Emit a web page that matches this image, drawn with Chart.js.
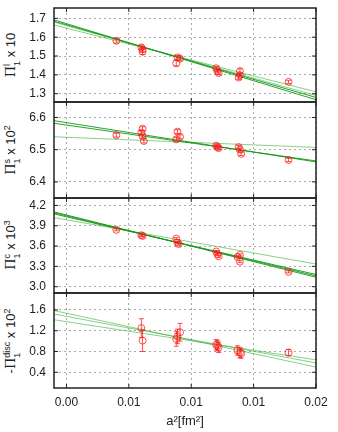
<!DOCTYPE html>
<html>
<head>
<meta charset="utf-8">
<script src="https://cdn.jsdelivr.net/npm/chart.js@4.4.0/dist/chart.umd.min.js"></script>
<style>
body { margin: 0; background: #fff; }
#wrap { position: relative; width: 338px; height: 432px; overflow: hidden; }
#wrap canvas { position: absolute; left: 0; }
.ylab {
    position: absolute; left: 12px;
    transform: translate(-50%, -50%) rotate(-90deg);
    font: 13px "Liberation Sans", Arial, sans-serif; color: #222; white-space: nowrap;
}
.pi { font-family: "DejaVu Serif", "Liberation Serif", serif; }
.ss { display: inline-block; vertical-align: middle; font-size: 9px; line-height: 10px; text-align: left; }
.ss span { display: block; }
.ylab sup { font-size: 9px; }
</style>
</head>
<body>
<div id="wrap">
    <div class="ylab" style="top:55px"><span class="pi">Π</span><span class="ss"><span>l</span><span>1</span></span> x 10</div>
    <div class="ylab" style="top:150px"><span class="pi">Π</span><span class="ss"><span>s</span><span>1</span></span> x 10<sup>2</sup></div>
    <div class="ylab" style="top:245px"><span class="pi">Π</span><span class="ss"><span>c</span><span>1</span></span> x 10<sup>3</sup></div>
    <div class="ylab" style="top:341px">-<span class="pi">Π</span><span class="ss"><span>disc</span><span>1</span></span> x 10<sup>2</sup></div>
</div>
<script>
// ось x общая для всех панелей
const xTicks = [0, 0.005, 0.01, 0.015, 0.02];
const xTickLabels = ['0.00', '0.01', '0.01', '0.01', '0.02'];
const fitX = [-0.001, 0.02];

// Π1^l x 10
const p1X   = [0.0040, 0.0060, 0.0061, 0.0061, 0.0088, 0.0089, 0.0091, 0.0120, 0.0122, 0.0121, 0.0138, 0.0139, 0.0139, 0.0178];
const p1Y   = [1.581, 1.546, 1.535, 1.523, 1.462, 1.493, 1.486, 1.435, 1.410, 1.420, 1.386, 1.420, 1.398, 1.363];
const p1Err = [0.012, 0.012, 0.012, 0.015, 0.015, 0.010, 0.010, 0.010, 0.010, 0.010, 0.010, 0.012, 0.010, 0.008];
const p1Fits = [[1.692, 1.268], [1.685, 1.280], [1.680, 1.290], [1.665, 1.310]];
const p1Ticks = [1.3, 1.4, 1.5, 1.6, 1.7];

// Π1^s x 10^2
const p2X   = [0.0040, 0.0061, 0.0060, 0.0061, 0.0062, 0.0088, 0.0089, 0.0091, 0.0120, 0.0122, 0.0121, 0.0138, 0.0139, 0.0140, 0.0178];
const p2Y   = [6.545, 6.565, 6.553, 6.542, 6.527, 6.532, 6.556, 6.540, 6.512, 6.505, 6.508, 6.508, 6.500, 6.487, 6.468];
const p2Err = [0.006, 0.006, 0.006, 0.006, 0.006, 0.006, 0.006, 0.006, 0.005, 0.005, 0.005, 0.005, 0.005, 0.005, 0.005];
const p2Fits = [[6.590, 6.462], [6.582, 6.465], [6.540, 6.507]];
const p2Ticks = [6.4, 6.5, 6.6];

// Π1^c x 10^3
const p3X   = [0.0040, 0.0060, 0.0061, 0.0088, 0.0089, 0.0090, 0.0120, 0.0121, 0.0122, 0.0137, 0.0139, 0.0139, 0.0178];
const p3Y   = [3.84, 3.76, 3.75, 3.71, 3.65, 3.63, 3.52, 3.48, 3.45, 3.44, 3.47, 3.37, 3.22];
const p3Err = [0.015, 0.015, 0.015, 0.015, 0.015, 0.015, 0.015, 0.015, 0.015, 0.015, 0.015, 0.015, 0.015];
const p3Fits = [[4.105, 3.14], [4.090, 3.16], [4.075, 3.18], [4.020, 3.335]];
const p3Ticks = [3.0, 3.3, 3.6, 3.9, 4.2];

// -Π1^disc x 10^2
const p4X   = [0.0060, 0.0061, 0.0088, 0.0089, 0.0091, 0.0120, 0.0121, 0.0122, 0.0137, 0.0139, 0.0140, 0.0178];
const p4Y   = [1.25, 1.01, 1.04, 1.09, 1.17, 0.93, 0.91, 0.88, 0.82, 0.78, 0.76, 0.78];
const p4Err = [0.18, 0.21, 0.14, 0.14, 0.17, 0.10, 0.10, 0.10, 0.09, 0.10, 0.09, 0.06];
const p4Fits = [[1.587, 0.50], [1.520, 0.58], [1.410, 0.64]];
const p4Ticks = [0.4, 0.8, 1.2, 1.6];

const RED = 'rgba(255, 20, 20, 0.75)';
const DARK = 'rgba(20, 150, 20, 0.9)';
const LIGHT = 'rgba(40, 170, 40, 0.55)';
const FONT = { family: '"Liberation Sans", Arial, sans-serif', size: 12 };

const panels = [
    { x: p1X, y: p1Y, err: p1Err, fits: p1Fits, ticks: p1Ticks, min: 1.256, max: 1.755, shade: [DARK, DARK, LIGHT, LIGHT], top: 8, bottom: 102 },
    { x: p2X, y: p2Y, err: p2Err, fits: p2Fits, ticks: p2Ticks, min: 6.35, max: 6.648, shade: [DARK, DARK, LIGHT], top: 102, bottom: 198 },
    { x: p3X, y: p3Y, err: p3Err, fits: p3Fits, ticks: p3Ticks, min: 2.907, max: 4.31, shade: [DARK, DARK, DARK, LIGHT], top: 198, bottom: 293 },
    { x: p4X, y: p4Y, err: p4Err, fits: p4Fits, ticks: p4Ticks, min: 0.098, max: 1.925, shade: [LIGHT, LIGHT, LIGHT], top: 293, bottom: 388 }
];

// планки погрешностей
const errorBars = {
    id: 'errorBars',
    afterDatasetsDraw(chart) {
        const { ctx, scales } = chart;
        chart.data.datasets.forEach(ds => {
            if (!ds.errors) return;
            ctx.save();
            ctx.strokeStyle = RED;
            ctx.lineWidth = 1;
            ctx.beginPath();
            ds.data.forEach((p, j) => {
                const px = scales.x.getPixelForValue(p.x);
                const y1 = scales.y.getPixelForValue(p.y - ds.errors[j]);
                const y2 = scales.y.getPixelForValue(p.y + ds.errors[j]);
                ctx.moveTo(px, y1); ctx.lineTo(px, y2);
                ctx.moveTo(px - 2.5, y1); ctx.lineTo(px + 2.5, y1);
                ctx.moveTo(px - 2.5, y2); ctx.lineTo(px + 2.5, y2);
            });
            ctx.stroke();
            ctx.restore();
        });
    }
};

// рамка и внутренние засечки как в gnuplot
const frame = {
    id: 'frame',
    afterDraw(chart) {
        const { ctx, chartArea: a, scales } = chart;
        ctx.save();
        ctx.strokeStyle = '#222';
        ctx.lineWidth = 1;
        ctx.beginPath();
        xTicks.forEach(v => {
            const px = scales.x.getPixelForValue(v);
            ctx.moveTo(px, a.bottom); ctx.lineTo(px, a.bottom - 4);
            ctx.moveTo(px, a.top); ctx.lineTo(px, a.top + 4);
        });
        scales.y.ticks.forEach(t => {
            const py = scales.y.getPixelForValue(t.value);
            ctx.moveTo(a.left, py); ctx.lineTo(a.left + 4, py);
            ctx.moveTo(a.right, py); ctx.lineTo(a.right - 4, py);
        });
        ctx.stroke();
        ctx.lineWidth = 1.5;
        ctx.strokeRect(a.left, a.top, a.right - a.left, a.bottom - a.top);
        ctx.restore();
    }
};

// убираем автоматические поля под подписи, чтобы область графика стояла точно
function noPad(axis) {
    axis.paddingTop = 0;
    axis.paddingBottom = 0;
    axis.paddingLeft = 0;
    axis.paddingRight = 0;
}

const wrap = document.getElementById('wrap');

panels.forEach((p, i) => {
    const last = i === panels.length - 1;
    const cTop = p.top - 8;
    const canvas = document.createElement('canvas');
    canvas.width = 338;
    canvas.height = last ? 432 - cTop : p.bottom - p.top + 16;
    canvas.style.top = cTop + 'px';
    wrap.appendChild(canvas);

    const datasets = [{
        data: p.x.map((x, j) => ({ x: x, y: p.y[j] })),
        errors: p.err,
        borderColor: RED,
        backgroundColor: 'transparent',
        pointRadius: 3.5,
        borderWidth: 1
    }];
    p.fits.forEach((f, k) => {
        datasets.push({
            data: fitX.map((x, j) => ({ x: x, y: f[j] })),
            showLine: true,
            borderColor: p.shade[k],
            borderWidth: 1,
            pointRadius: 0
        });
    });

    new Chart(canvas, {
        type: 'scatter',
        data: { datasets: datasets },
        options: {
            responsive: false,
            animation: false,
            events: [],
            layout: { padding: { top: 8, bottom: last ? 0 : 8, left: 0, right: 22 } },
            plugins: { legend: { display: false }, tooltip: { enabled: false } },
            scales: {
                x: {
                    type: 'linear',
                    min: -0.001,
                    max: 0.02,
                    bounds: 'data',
                    afterBuildTicks: axis => { axis.ticks = xTicks.map(v => ({ value: v })); },
                    afterFit: axis => { axis.height = last ? 44 : 0; noPad(axis); },
                    grid: { color: '#aaa', lineWidth: 1, drawTicks: false },
                    border: { display: false, dash: [2, 3] },
                    ticks: {
                        display: last,
                        padding: 7,
                        color: '#222',
                        font: FONT,
                        maxRotation: 0,
                        callback: (v, idx) => xTickLabels[idx]
                    },
                    title: {
                        display: last,
                        text: 'a²[fm²]',
                        color: '#222',
                        font: { family: FONT.family, size: 13 },
                        padding: { top: 0, bottom: 3 }
                    }
                },
                y: {
                    type: 'linear',
                    min: p.min,
                    max: p.max,
                    bounds: 'data',
                    afterBuildTicks: axis => { axis.ticks = p.ticks.map(v => ({ value: v })); },
                    afterFit: axis => { axis.width = 54; noPad(axis); },
                    grid: { color: '#aaa', lineWidth: 1, drawTicks: false },
                    border: { display: false, dash: [2, 3] },
                    ticks: {
                        padding: 8,
                        color: '#222',
                        font: FONT,
                        callback: v => v.toFixed(1)
                    }
                }
            }
        },
        plugins: [errorBars, frame]
    });
});
</script>
</body>
</html>
